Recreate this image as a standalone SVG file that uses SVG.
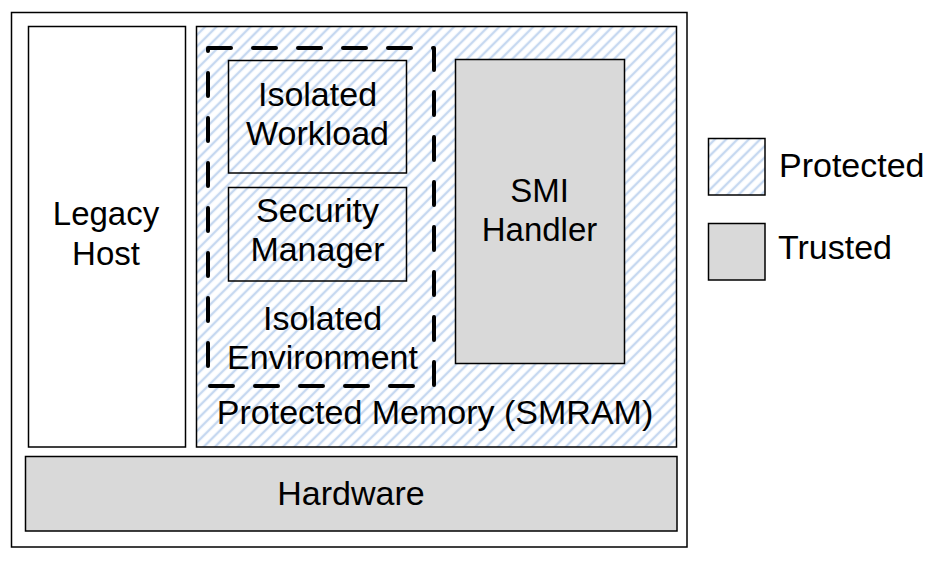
<svg xmlns="http://www.w3.org/2000/svg" width="944" height="562" viewBox="0 0 944 562">
  <defs>
    <pattern id="hatch" patternUnits="userSpaceOnUse" width="8" height="8" patternTransform="rotate(45)">
      <rect width="8" height="8" fill="#ffffff"/>
      <line x1="4" y1="-1" x2="4" y2="9" stroke="#c6d8f0" stroke-width="2.4"/>
    </pattern>
  </defs>
  <style>
    .box { stroke: #000000; stroke-width: 1.5; }
    .plain { fill: #ffffff; }
    .hatched { fill: url(#hatch); }
    .trusted { fill: #d9d9d9; }
    .dashed { fill: none; stroke: #000000; stroke-width: 4; stroke-dasharray: 23 22; stroke-linecap: round; stroke-linejoin: round; }
    text { font-family: "Liberation Sans", Arial, sans-serif; fill: #000000; text-anchor: middle; }
    .t33 { font-size: 33px; }
    .t34 { font-size: 34px; }
    .left { text-anchor: start; }
  </style>
  <rect width="944" height="562" fill="#ffffff"/>

  <g id="outer">
    <rect class="box plain" x="11.5" y="12.5" width="675.5" height="534.5"/>
  </g>

  <g id="legacy-host">
    <rect class="box plain" x="28.5" y="26.5" width="157" height="420.5"/>
    <text class="t33" x="106" y="225">Legacy</text>
    <text class="t33" x="106" y="265">Host</text>
  </g>

  <g id="protected-memory">
    <rect class="box hatched" x="196.5" y="26.5" width="480" height="420.5"/>
    <text class="t34" x="435" y="424">Protected Memory (SMRAM)</text>
  </g>

  <g id="isolated-environment">
    <rect class="dashed" x="208" y="48" width="226" height="338"/>
    <text class="t34" x="322.5" y="329.5">Isolated</text>
    <text class="t34" x="322.5" y="369">Environment</text>
  </g>

  <g id="isolated-workload">
    <rect class="box hatched" x="228.5" y="60.5" width="178" height="112.5"/>
    <text class="t34" x="317.5" y="105.5">Isolated</text>
    <text class="t34" x="317.5" y="144.5">Workload</text>
  </g>

  <g id="security-manager">
    <rect class="box hatched" x="228.5" y="187.5" width="178" height="93.5"/>
    <text class="t34" x="317.5" y="221.7">Security</text>
    <text class="t34" x="317.5" y="260.5">Manager</text>
  </g>

  <g id="smi-handler">
    <rect class="box trusted" x="455.5" y="59.5" width="169" height="304"/>
    <text class="t33" x="539.5" y="201.5">SMI</text>
    <text class="t33" x="539.5" y="241">Handler</text>
  </g>

  <g id="hardware">
    <rect class="box trusted" x="25.5" y="456.5" width="651.5" height="74.5"/>
    <text class="t34" x="351" y="505">Hardware</text>
  </g>

  <g id="legend-protected">
    <rect class="box hatched" x="708.5" y="138.5" width="56.5" height="56.5"/>
    <text class="t34 left" x="779" y="176.5">Protected</text>
  </g>

  <g id="legend-trusted">
    <rect class="box trusted" x="708.5" y="223.5" width="56.5" height="56.5"/>
    <text class="t34 left" x="778" y="259">Trusted</text>
  </g>
</svg>
